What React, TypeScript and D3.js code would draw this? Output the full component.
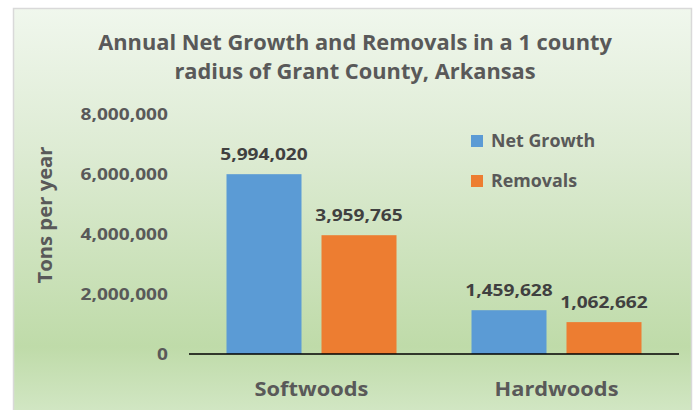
import React from "react";
import * as d3 from "d3";

const categories = ["Softwoods", "Hardwoods"];
const seriesNames = ["Net Growth", "Removals"];
const netGrowth = [5994020, 1459628];
const removals = [3959765, 1062662];
const yTicks = [0, 2000000, 4000000, 6000000, 8000000];
const titleLines = ["Annual Net Growth and Removals in a 1 county", "radius of Grant County, Arkansas"];
const yAxisTitle = "Tons per year";

const colors: Record<string, string> = { "Net Growth": "#5B9BD5", Removals: "#ED7D31" };
const FONT = "'Open Sans', 'Noto Sans', sans-serif";
const TEXT = "#595959";

function T(props: {
  x: number; y: number; size: number; sx: number; anchor?: string; fill?: string; rotate?: number; dy?: string; children: React.ReactNode;
}) {
  const { x, y, size, sx, anchor = "start", fill = TEXT, rotate = 0, dy, children } = props;
  return (
    <text
      transform={`translate(${x},${y}) rotate(${rotate}) scale(${sx},1)`}
      textAnchor={anchor}
      dy={dy}
      fontFamily={FONT}
      fontWeight={700}
      fontSize={size}
      fill={fill}
    >
      {children}
    </text>
  );
}

export default function App() {
  const W = 695, H = 410;
  const plotLeft = 189, plotRight = 679, plotTop = 114, plotBottom = 354;
  const y = d3.scaleLinear().domain([0, 8000000]).range([plotBottom, plotTop]);
  const x0 = d3.scaleBand<string>().domain(categories).range([plotLeft, plotRight]).padding(0);
  const groupW = 170;
  const bw = x0.bandwidth();
  const x1 = d3.scaleBand<string>().domain(seriesNames).range([(bw - groupW) / 2, (bw + groupW) / 2]).paddingInner(20 / 95).paddingOuter(0);
  const fmt = d3.format(",");
  const data = seriesNames.map((s, si) => ({ name: s, values: si === 0 ? netGrowth : removals }));

  return (
    <svg width={W} height={H} style={{ position: "absolute", left: 0, top: 0 }}>
      <defs>
        <linearGradient id="bg" x1="0" y1="0" x2="0" y2="1">
          <stop offset="0" stopColor="#F0F7ED" />
          <stop offset="0.35" stopColor="#DDEBD3" />
          <stop offset="0.82" stopColor="#BFDBA9" />
          <stop offset="1" stopColor="#D4E8C7" />
        </linearGradient>
      </defs>
      <rect x={0} y={0} width={W} height={H} fill="#ffffff" />
      <rect x={13.5} y={8.5} width={678} height={412} fill="url(#bg)" stroke="#D9D9D9" strokeWidth={1.5} />
      {titleLines.map((t, i) => (
        <T key={i} x={355} y={50 + i * 29} size={21} sx={1.04} anchor="middle">
          {t}
        </T>
      ))}
      {yTicks.map((t) => (
        <T key={t} x={168} y={y(t)} dy="0.35em" size={16.5} sx={1.16} anchor="end">
          {fmt(t)}
        </T>
      ))}
      <T x={52} y={215} rotate={-90} size={19.5} sx={1.04} anchor="middle">
        {yAxisTitle}
      </T>
      {categories.map((c, ci) => (
        <g key={c} transform={`translate(${x0(c)},0)`}>
          {data.map((s) => {
            const v = s.values[ci];
            const bx = x1(s.name)!;
            return (
              <g key={s.name}>
                <rect x={bx} y={y(v)} width={x1.bandwidth()} height={plotBottom - y(v)} fill={colors[s.name]} />
                <T x={bx + x1.bandwidth() / 2} y={y(v) - 14} size={16.5} sx={1.16} anchor="middle" fill="#404040">
                  {fmt(v)}
                </T>
              </g>
            );
          })}
          <T x={bw / 2} y={396} size={19.5} sx={1.12} anchor="middle">
            {c}
          </T>
        </g>
      ))}
      <line x1={plotLeft} x2={plotRight} y1={plotBottom} y2={plotBottom} stroke="#000" strokeWidth={1.5} />
      {seriesNames.map((s, i) => (
        <g key={s} transform={`translate(471,${135 + i * 40})`}>
          <rect x={0} y={0} width={12} height={12} fill={colors[s]} />
          <T x={20} y={6} dy="0.36em" size={17.5} sx={1.02}>
            {s}
          </T>
        </g>
      ))}
    </svg>
  );
}
